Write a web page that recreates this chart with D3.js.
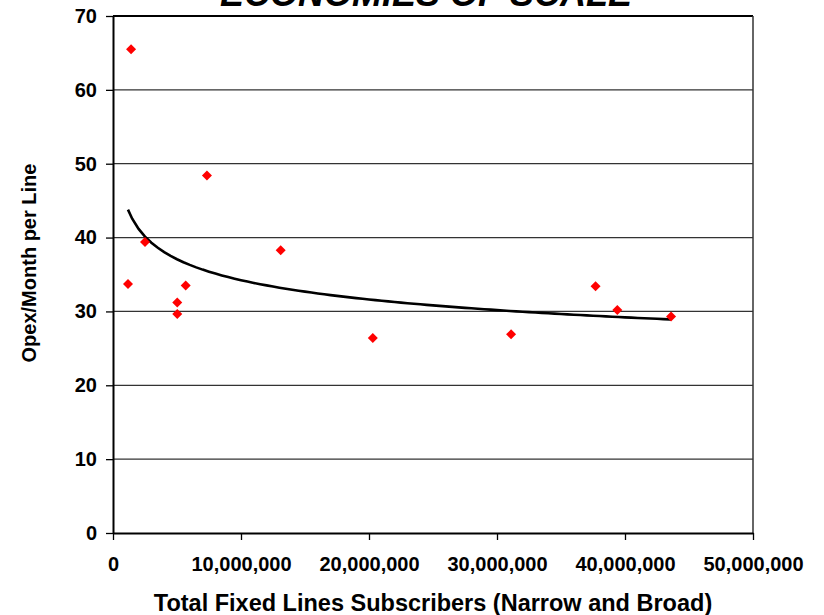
<!DOCTYPE html>
<html>
<head>
<meta charset="utf-8">
<script src="https://d3js.org/d3.v7.min.js"></script>
<style>
  body { margin: 0; background: #fff; }
  text { font-family: Arial, "Liberation Sans", sans-serif; font-weight: bold; fill: #000; }
</style>
</head>
<body>
<div id="chart-container"></div>
<script>
const width = 824;
const height = 615;

// subscribers (x) and opex per line (y)
const subscribers = [1410000, 1170000, 2500000, 5020000, 5020000, 5680000, 7340000,
  13100000, 20300000, 31100000, 37700000, 39400000, 43600000];
const opex = [65.5, 33.7, 39.4, 31.2, 29.65, 33.5, 48.4, 38.3, 26.4, 26.9, 33.4, 30.2, 29.3];

const xTicks = [0, 10000000, 20000000, 30000000, 40000000, 50000000];
const yTicks = [0, 10, 20, 30, 40, 50, 60, 70];

const chartTitle = "ECONOMIES OF SCALE";
const xTitle = "Total Fixed Lines Subscribers (Narrow and Broad)";
const yTitle = "Opex/Month per Line";

const plot = {left: 113, right: 753, top: 16, bottom: 533};

const svg = d3
  .select("#chart-container")
  .append("svg")
    .attr("width", width)
    .attr("height", height)

let x = d3.scaleLinear()
  .domain([0, 50000000])
  .range([plot.left, plot.right]);

let y = d3.scaleLinear()
  .domain([0, 70])
  .range([plot.bottom, plot.top]);

/* ----------------------- grid + frame ----------------------- */
svg.append("g")
  .selectAll("line")
  .data(yTicks.filter(d => d > 0))
  .join("line")
    .attr("x1", plot.left)
    .attr("x2", plot.right)
    .attr("y1", d => y(d))
    .attr("y2", d => y(d))
    .attr("stroke", d => d === 70 ? "#000" : "#333")
    .attr("stroke-width", d => d === 70 ? 2 : 1.3)

//right edge of plot area
svg.append("line")
  .attr("x1", plot.right).attr("x2", plot.right)
  .attr("y1", plot.top).attr("y2", plot.bottom)
  .attr("stroke", "#333")
  .attr("stroke-width", 1.5)

/* ----------------------- axes ----------------------- */
const xAxis = svg.append("g")
  .attr("transform", `translate(0,${plot.bottom})`)
  .call(d3.axisBottom(x)
    .tickValues(xTicks)
    .tickFormat(d3.format(","))
    .tickSize(7)
    .tickSizeOuter(0)
    .tickPadding(17))

const yAxis = svg.append("g")
  .attr("transform", `translate(${plot.left},0)`)
  .call(d3.axisLeft(y)
    .tickValues(yTicks)
    .tickSize(7)
    .tickSizeOuter(0)
    .tickPadding(9))

xAxis.select(".domain").attr("stroke", "#000").attr("stroke-width", 2)
yAxis.select(".domain").attr("stroke", "#000").attr("stroke-width", 2)
svg.selectAll(".tick line").attr("stroke", "#000").attr("stroke-width", 1.3)
svg.selectAll(".tick text")
  .attr("font-size", 20)
  .attr("font-family", null)
  .attr("fill", "#000")

/* ----------------------- trendline (power fit, like excel) ----------------------- */
const lx = subscribers.map(d => Math.log(d));
const ly = opex.map(d => Math.log(d));
const mx = d3.mean(lx);
const my = d3.mean(ly);
const b = d3.sum(lx, (d, i) => (d - mx) * (ly[i] - my)) / d3.sum(lx, d => (d - mx) * (d - mx));
const a = Math.exp(my - b * mx);

const trendX = x.copy().domain(d3.extent(subscribers)).ticks(120);
trendX.unshift(d3.min(subscribers));
trendX.push(d3.max(subscribers));

svg.append("path")
  .datum(trendX)
  .attr("fill", "none")
  .attr("stroke", "#000")
  .attr("stroke-width", 2.6)
  .attr("d", d3.line()
    .x(d => x(d))
    .y(d => y(a * Math.pow(d, b))))

/* ----------------------- points ----------------------- */
svg.append("g")
  .selectAll("path")
  .data(subscribers)
  .join("path")
    .attr("d", d3.symbol(d3.symbolSquare, 50))
    .attr("transform", (d, i) => `translate(${x(d)},${y(opex[i])}) rotate(45)`)
    .attr("fill", "#ff0000")

/* ----------------------- titles ----------------------- */
// title sits partly above the top edge, as in the source picture
svg.append("text")
  .attr("x", 426)
  .attr("y", 6)
  .attr("text-anchor", "middle")
  .attr("font-size", 36)
  .attr("font-style", "italic")
  .text(chartTitle)

svg.append("text")
  .attr("x", (plot.left + plot.right) / 2)
  .attr("y", 611)
  .attr("text-anchor", "middle")
  .attr("font-size", 23.5)
  .text(xTitle)

svg.append("text")
  .attr("transform", `translate(36,263) rotate(-90)`)
  .attr("text-anchor", "middle")
  .attr("font-size", 20)
  .text(yTitle)
</script>
</body>
</html>
